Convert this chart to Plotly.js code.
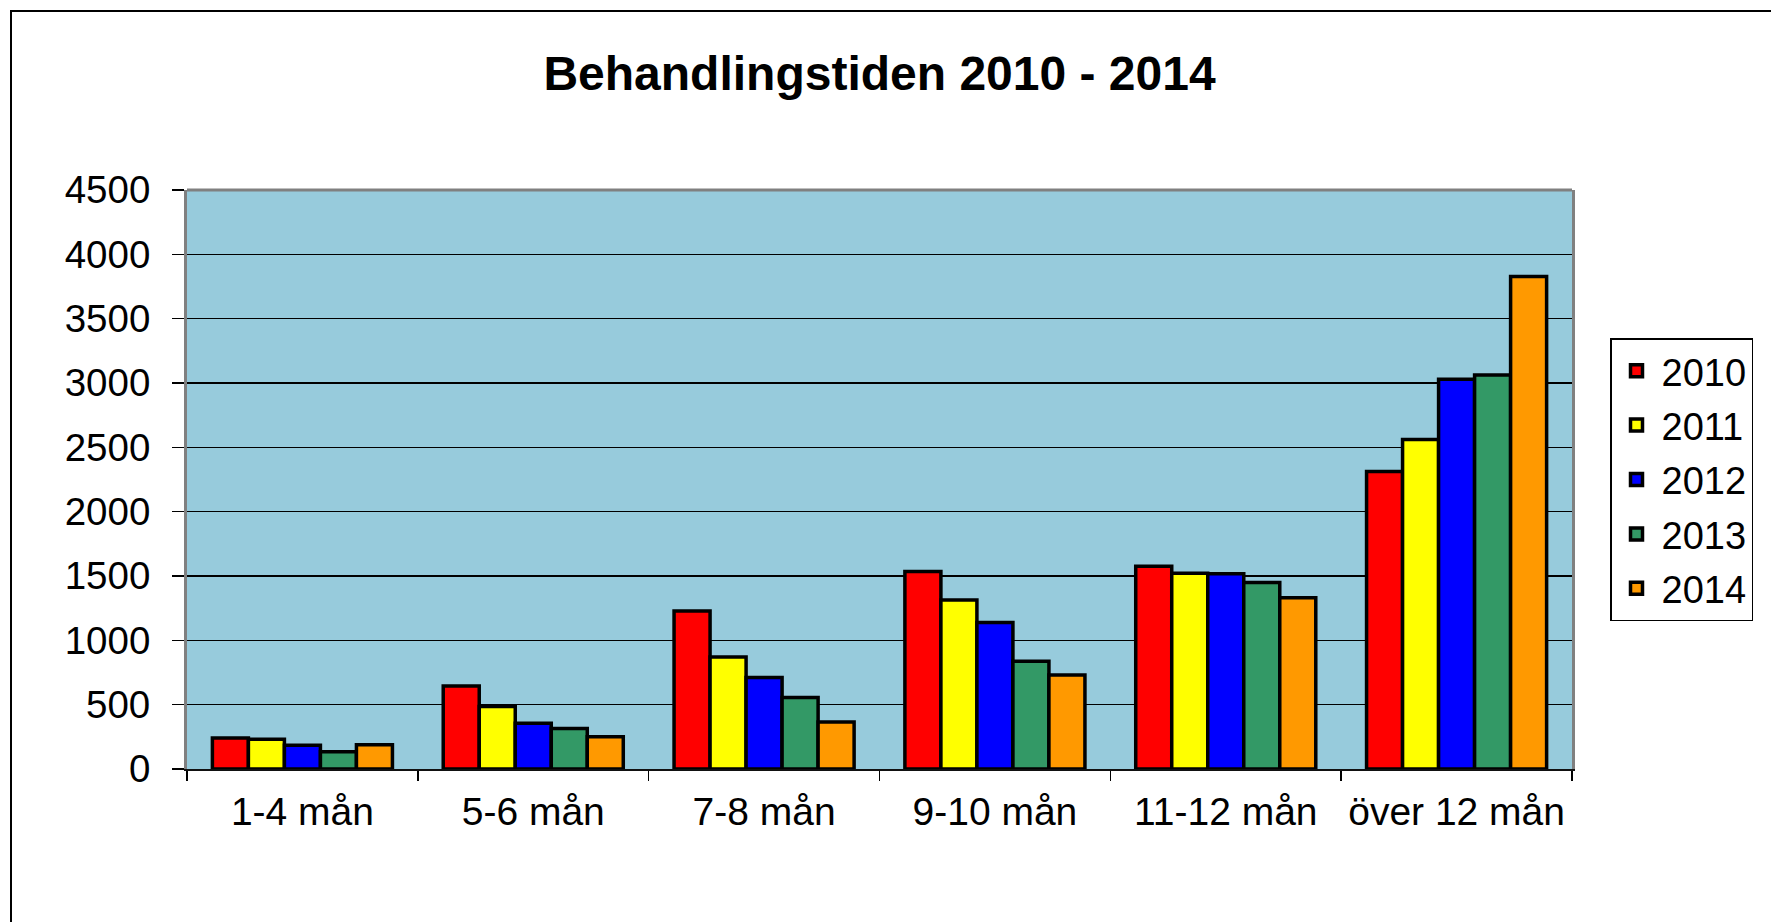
<!DOCTYPE html>
<html>
<head>
<meta charset="utf-8">
<script src="https://cdn.plot.ly/plotly-3.0.1.min.js"></script>
<style>
  html, body { margin: 0; padding: 0; background: #fff; }
  #frame { position: absolute; left: 10px; top: 10px; width: 1800px; height: 1000px; border: 2.5px solid #000; box-sizing: border-box; pointer-events: none; }
  #chart { position: absolute; left: 0; top: 0; width: 1771px; height: 922px; }
</style>
</head>
<body>
<div id="chart"></div>
<div id="frame"></div>
<script>
const categories = ["1-4 mån", "5-6 mån", "7-8 mån", "9-10 mån", "11-12 mån", "över 12 mån"];
const years = ["2010", "2011", "2012", "2013", "2014"];
const values2010 = [240, 645, 1228, 1535, 1575, 2312];
const values2011 = [232, 485, 870, 1314, 1522, 2560];
const values2012 = [185, 355, 712, 1138, 1517, 3030];
const values2013 = [135, 315, 556, 838, 1450, 3062];
const values2014 = [188, 250, 365, 730, 1330, 3827];
const seriesValues = [values2010, values2011, values2012, values2013, values2014];
const colors = ["#FF0000", "#FFFF00", "#0000FF", "#339966", "#FF9900"];

const traces = years.map((y, i) => ({
  type: "bar",
  name: y,
  x: categories,
  y: seriesValues[i],
  legendgroup: "g" + i,
  marker: { color: colors[i], line: { color: "#000", width: 3.5 } },
  hoverinfo: "x+y+name"
}));

const font = "Liberation Sans, Arial, sans-serif";
const layout = {
  width: 1771,
  height: 922,
  paper_bgcolor: "#ffffff",
  plot_bgcolor: "#97CBDC",
  margin: { l: 187, r: 199, t: 190, b: 153, pad: 0 },
  title: {
    text: "<b>Behandlingstiden 2010 - 2014</b>",
    font: { family: font, size: 48, color: "#000" },
    x: 0.5, xref: "paper", xanchor: "center",
    y: 1 - 73 / 922, yref: "container", yanchor: "middle"
  },
  barmode: "group",
  bargap: 0.22,
  bargroupgap: 0,
  showlegend: true,
  legend: {
    x: (1610 - 187) / 1385, xref: "paper", xanchor: "left",
    y: (769 - 338) / 579, yanchor: "top",
    bordercolor: "#000", borderwidth: 1.5, bgcolor: "#fff",
    font: { family: font, size: 38, color: "#000" },
    traceorder: "grouped", tracegroupgap: 2,
    itemwidth: 40
  },
  xaxis: {
    type: "category",
    tickson: "boundaries",
    ticks: "outside", ticklen: 10, tickwidth: 1.5, tickcolor: "#000",
    showline: true, linecolor: "#111", linewidth: 2,
    showgrid: false, zeroline: false,
    tickfont: { family: font, size: 39, color: "#000" },
    ticklabelstandoff: 7,
    fixedrange: true
  },
  yaxis: {
    range: [0, 4500], dtick: 500, tick0: 0,
    ticks: "outside", ticklen: 12, tickwidth: 1.5, tickcolor: "#000",
    showline: true, linecolor: "#808080", linewidth: 3, mirror: true,
    showgrid: true, gridcolor: "#000", gridwidth: 1.5,
    zeroline: false,
    tickfont: { family: font, size: 38.5, color: "#000" },
    ticklabelstandoff: 14,
    fixedrange: true
  },
  shapes: [
    { type: "line", xref: "paper", yref: "paper", x0: 0, x1: 1, y0: 1, y1: 1, line: { color: "#808080", width: 3 } }
  ]
};

Plotly.newPlot("chart", traces, layout, { displayModeBar: false, staticPlot: true });
</script>
</body>
</html>
